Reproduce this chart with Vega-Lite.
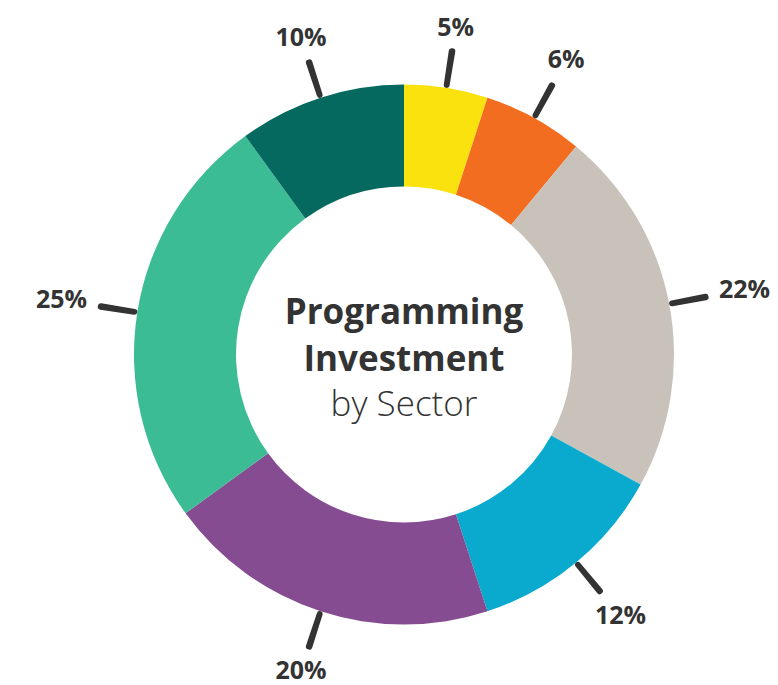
{
  "$schema": "https://vega.github.io/schema/vega-lite/v6.json",
  "width": 748,
  "height": 661,
  "autosize": {"type": "none"},
  "padding": {"left": 30, "top": 24, "right": 0, "bottom": 0},
  "background": "white",
  "view": {"stroke": null},
  "config": {"font": "Open Sans"},
  "layer": [
    {
      "data": {"values": [
        {"i": 1, "segment": "Yellow", "value": 5},
        {"i": 2, "segment": "Orange", "value": 6},
        {"i": 3, "segment": "Gray", "value": 22},
        {"i": 4, "segment": "Blue", "value": 12},
        {"i": 5, "segment": "Purple", "value": 20},
        {"i": 6, "segment": "Green", "value": 25},
        {"i": 7, "segment": "Teal", "value": 10}
      ]},
      "transform": [
        {"stack": "value", "groupby": [], "sort": [{"field": "i"}], "as": ["v0", "v1"]},
        {"calculate": "(datum.v0 + datum.v1) / 2", "as": "mid"},
        {"calculate": "datum.mid - 0.17", "as": "t0"},
        {"calculate": "datum.mid + 0.17", "as": "t1"},
        {"calculate": "datum.value + '%'", "as": "label"}
      ],
      "layer": [
        {
          "mark": {"type": "arc", "radius": 270, "radius2": 168},
          "encoding": {
            "theta": {"field": "v0", "type": "quantitative", "scale": {"domain": [0, 100]}},
            "theta2": {"field": "v1"},
            "color": {
              "field": "segment",
              "type": "nominal",
              "scale": {
                "domain": ["Yellow", "Orange", "Gray", "Blue", "Purple", "Green", "Teal"],
                "range": ["#FAE20E", "#F36D21", "#C9C2BA", "#0AAACE", "#854C91", "#3BBC94", "#05695F"]
              },
              "legend": null
            }
          }
        },
        {
          "mark": {"type": "arc", "radius": 310, "radius2": 270, "color": "#333333", "cornerRadius": 3},
          "encoding": {
            "theta": {"field": "t0", "type": "quantitative", "scale": {"domain": [0, 100]}},
            "theta2": {"field": "t1"}
          }
        },
        {
          "mark": {"type": "text", "radius": {"expr": "327 + 20 * abs(sin(datum.mid / 100 * 2 * PI))"}, "font": "Open Sans", "fontWeight": "bold", "fontSize": 25, "color": "#333333", "align": "center", "baseline": "middle"},
          "encoding": {
            "theta": {"field": "mid", "type": "quantitative", "scale": {"domain": [0, 100]}},
            "text": {"field": "label"}
          }
        }
      ]
    },
    {
      "data": {"values": [{"t": "Programming"}]},
      "mark": {"type": "text", "font": "Open Sans", "fontWeight": "bold", "fontSize": 35, "color": "#333333", "align": "center", "baseline": "alphabetic", "dy": -31},
      "encoding": {"text": {"field": "t"}}
    },
    {
      "data": {"values": [{"t": "Investment"}]},
      "mark": {"type": "text", "font": "Open Sans", "fontWeight": "bold", "fontSize": 35, "color": "#333333", "align": "center", "baseline": "alphabetic", "dy": 16},
      "encoding": {"text": {"field": "t"}}
    },
    {
      "data": {"values": [{"t": "by Sector"}]},
      "mark": {"type": "text", "font": "Open Sans", "fontWeight": 300, "fontSize": 35, "color": "#333333", "align": "center", "baseline": "alphabetic", "dy": 61},
      "encoding": {"text": {"field": "t"}}
    }
  ]
}
